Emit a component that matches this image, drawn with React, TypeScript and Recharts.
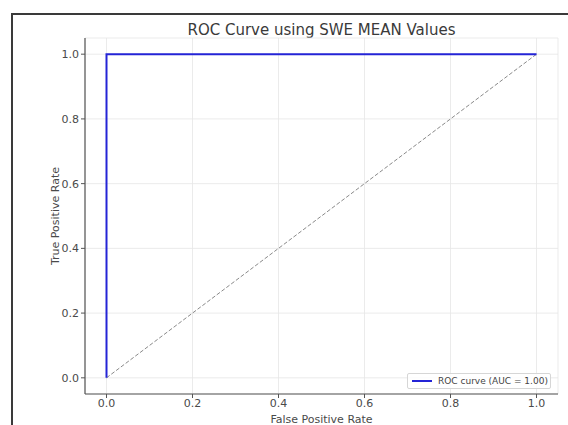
import {
  LineChart,
  Line,
  XAxis,
  YAxis,
  CartesianGrid,
  Legend,
} from "recharts";

// ROC curve points (false positive rate / true positive rate)
const fpr = [0, 0, 1];
const tpr = [0, 1, 1];

// chance line
const chanceX = [0, 1];
const chanceY = [0, 1];

const ticks = [0, 0.2, 0.4, 0.6, 0.8, 1.0];

const rocData = fpr.map((x, i) => ({ x, y: tpr[i] }));
const chanceData = chanceX.map((x, i) => ({ x, y: chanceY[i] }));

const FONT = "'DejaVu Sans', Verdana, sans-serif";
const fmt = (v: number) => v.toFixed(1);

function LegendBox() {
  return (
    <div
      style={{
        width: 142,
        height: 14,
        border: "1px solid #d6d6d6",
        borderRadius: 2,
        background: "rgba(255,255,255,0.85)",
        display: "flex",
        alignItems: "center",
        fontFamily: FONT,
        fontSize: 9,
        color: "#444",
        whiteSpace: "nowrap",
      }}
    >
      <span
        style={{
          display: "inline-block",
          width: 20,
          height: 2,
          background: "#2424d6",
          marginLeft: 4,
          marginRight: 6,
        }}
      />
      ROC curve (AUC = 1.00)
    </div>
  );
}

export default function App() {
  return (
    <div
      style={{
        position: "absolute",
        left: 0,
        top: 0,
        width: 568,
        height: 425,
        background: "#fff",
        overflow: "hidden",
      }}
    >
      <div
        style={{
          position: "absolute",
          left: 11,
          top: 13,
          width: 570,
          height: 420,
          borderLeft: "2px solid #3a3a3a",
          borderTop: "2px solid #3a3a3a",
        }}
      />
      <div
        style={{
          position: "absolute",
          left: 85,
          width: 473,
          top: 21,
          textAlign: "center",
          fontFamily: FONT,
          fontSize: 15,
          color: "#3a3a3a",
        }}
      >
        ROC Curve using SWE MEAN Values
      </div>
      <LineChart
        width={568}
        height={425}
        margin={{ top: 38, right: 10, bottom: 0, left: 40 }}
        style={{ position: "absolute", left: 0, top: 0 }}
      >
        <CartesianGrid stroke="#e6e6e6" strokeWidth={0.8} />
        <XAxis
          dataKey="x"
          type="number"
          domain={[-0.05, 1.05]}
          ticks={ticks}
          tickFormatter={fmt}
          height={31}
          tickSize={4}
          tickMargin={1}
          axisLine={{ stroke: "#555", strokeWidth: 1.2 }}
          tickLine={{ stroke: "#555" }}
          tick={{ fill: "#4a4a4a", fontSize: 11, fontFamily: FONT }}
          allowDataOverflow
          label={{
            value: "False Positive Rate",
            position: "insideBottom",
            offset: 2,
            fill: "#4a4a4a",
            fontSize: 11,
            fontFamily: FONT,
          }}
        />
        <YAxis
          dataKey="y"
          type="number"
          domain={[-0.05, 1.05]}
          ticks={ticks}
          tickFormatter={fmt}
          width={45}
          tickSize={4}
          tickMargin={2}
          axisLine={{ stroke: "#555", strokeWidth: 1.2 }}
          tickLine={{ stroke: "#555" }}
          tick={{ fill: "#4a4a4a", fontSize: 11, fontFamily: FONT }}
          allowDataOverflow
          label={(props: any) => {
            const vb = props.viewBox;
            const cx = vb.x + 15;
            const cy = vb.y + vb.height / 2;
            return (
              <text
                x={cx}
                y={cy}
                transform={`rotate(-90, ${cx}, ${cy})`}
                textAnchor="middle"
                dominantBaseline="central"
                fill="#4a4a4a"
                fontSize={11}
                fontFamily={FONT}
              >
                True Positive Rate
              </text>
            );
          }}
        />
        <Line
          data={chanceData}
          dataKey="y"
          stroke="#8a8a8a"
          strokeWidth={1}
          strokeDasharray="4 2"
          dot={false}
          isAnimationActive={false}
          legendType="none"
        />
        <Line
          data={rocData}
          dataKey="y"
          name="ROC curve (AUC = 1.00)"
          stroke="#2424d6"
          strokeWidth={2}
          dot={false}
          type="linear"
          isAnimationActive={false}
        />
        <Legend
          layout="vertical"
          align="center"
          verticalAlign="middle"
          content={() => <LegendBox />}
          wrapperStyle={{ left: 407, top: 373, width: 144, height: 16 }}
        />
      </LineChart>
    </div>
  );
}
